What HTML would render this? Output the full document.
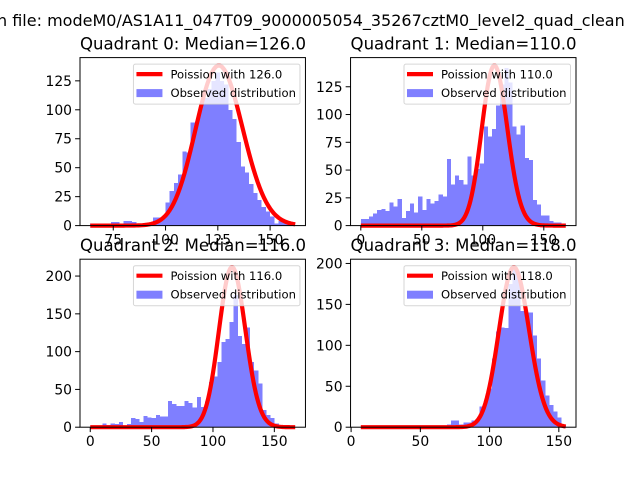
<!DOCTYPE html>
<html><head><meta charset="utf-8">
<style>
html,body{margin:0;padding:0;background:#fff;}
svg{display:block;font-family:"DejaVu Sans","Liberation Sans",sans-serif;}
</style></head>
<body>
<svg id="fig" width="640" height="480" viewBox="0 0 640 480" xmlns="http://www.w3.org/2000/svg">
<rect width="640" height="480" fill="#fff"/>
<text x="-3" y="26" font-size="16">n file: modeM0/AS1A11_047T09_9000005054_35267cztM0_level2_quad_clean</text>
</svg>
<script>
// Quadrant 0
const q0Counts=[2,2,2,2,2,3,3,2,4,4,3,2,2,2,2,7,7,6,20,30,37,44,64,63,89,90,103,110,118,125,132,125,122,100,92,72,51,46,36,28,22,16,12,8,2,4,4,2,1];
const q0BinStart=64, q0BinWidth=2;
const q0Median=126, q0Amp=3890;
const q0XTicks=[75,100,125,150], q0YTicks=[0,25,50,75,100,125];
// Quadrant 1
const q1Counts=[6,6,8,11,14,15,13,21,17,24,7,13,20,12,26,14,24,20,22,28,26,60,37,45,41,37,62,45,51,56,89,80,87,108,127,142,129,89,82,90,61,59,23,19,9,9,4,3,3,2];
const q1BinStart=0, q1BinWidth=3.36;
const q1Median=110, q1Amp=3790;
const q1XTicks=[0,50,100,150], q1YTicks=[0,25,50,75,100,125];
// Quadrant 2
const q2Counts=[1,1,1,5,3,5,4,7,2,4,12,11,7,15,13,12,16,14,14,35,31,28,28,35,32,26,40,27,34,60,67,86,113,117,139,175,121,110,132,86,75,58,23,16,12,5,2,1,1,0];
const q2BinStart=0, q2BinWidth=3.34;
const q2Median=116, q2Amp=5720;
const q2XTicks=[0,50,100,150], q2YTicks=[0,50,100,150,200];
// Quadrant 3
const q3Counts=[1,0,0,0,0,1,0,0,0,0,0,0,0,0,0,0,0,1,0,1,2,3,8,8,3,6,6,8,10,25,31,47,84,117,122,121,175,194,190,142,140,140,112,84,57,39,27,19,12,2];
const q3BinStart=7, q3BinWidth=2.96;
const q3Median=118, q3Amp=5325;
const q3XTicks=[0,50,100,150], q3YTicks=[0,50,100,150,200];

const NS="http://www.w3.org/2000/svg";
const svg=document.getElementById('fig');
function mk(tag,attrs,parent){const e=document.createElementNS(NS,tag);for(const k in attrs)e.setAttribute(k,attrs[k]);(parent||svg).appendChild(e);return e;}
function lnFact(k){let s=0;for(let i=2;i<=k;i++)s+=Math.log(i);return s;}
function pois(k,mu){return Math.exp(k*Math.log(mu)-mu-lnFact(k));}

function panel(idx,ax,counts,bs,bw,med,amp,xt,yt){
  const L=ax.x,T=ax.y,W=225.45,H=168;
  const xMin=bs,xMax=bs+bw*counts.length;
  const cMin=Math.round(xMin),cMax=Math.round(xMax);
  let cur=[];for(let k=cMin;k<=cMax;k++)cur.push(pois(k,med)*amp);
  const dMax=Math.max(Math.max(...counts),Math.max(...cur));
  const pad=(xMax-xMin)*0.05;
  const x0=xMin-pad,x1=xMax+pad,y1=dMax*1.05;
  const sx=v=>L+(v-x0)/(x1-x0)*W, sy=v=>T+H-(v/y1)*H;
  const g=mk('g',{});
  
  
  const t=mk('text',{x:L,y:T-8,'font-size':'16.7',textLength:'226',lengthAdjust:'spacingAndGlyphs'},g);
  t.textContent='Quadrant '+idx+': Median='+med.toFixed(1);
  
  
  const bg=mk('g',{'shape-rendering':'crispEdges'},g);
  counts.forEach((c,i)=>{
    if(c<=0)return;
    const r=mk('rect',{x:sx(bs+i*bw),y:sy(c),width:sx(bs+(i+1)*bw)-sx(bs+i*bw),height:sy(0)-sy(c),fill:'#0000ff','fill-opacity':'0.5'},bg);
    
    
  });
  let d='';for(let k=cMin;k<=cMax;k++){d+=(k===cMin?'M':'L')+sx(k).toFixed(2)+','+sy(cur[k-cMin]).toFixed(2);}
  const p=mk('path',{d:d,fill:'none',stroke:'#ff0000','stroke-width':'4.2','stroke-linejoin':'round'},g);
  
  
  const lg=mk('g',{},g);
  
  
  const lx=L+W-172,ly=T+6.5;
  mk('rect',{x:lx,y:ly,width:166.5,height:40,rx:2,fill:'#fff','fill-opacity':'0.8',stroke:'#ccc','stroke-opacity':'0.8','stroke-width':'1'},lg);
  mk('line',{x1:lx+3,y1:ly+10,x2:lx+29,y2:ly+10,stroke:'#ff0000','stroke-width':'4.2'},lg);
  mk('rect',{x:lx+3,y:ly+25,width:26,height:8,fill:'#0000ff','fill-opacity':'0.5'},lg);
  const t1=mk('text',{x:lx+37,y:ly+14.5,'font-size':'11.6'},lg);t1.textContent='Poission with '+med.toFixed(1);
  const t2=mk('text',{x:lx+37,y:ly+33,'font-size':'11.6'},lg);t2.textContent='Observed distribution';
  mk('rect',{x:L,y:T,width:W,height:H,fill:'none',stroke:'#000','stroke-width':'1'},g);
  xt.forEach(v=>{const X=sx(v);mk('line',{x1:X,y1:T+H,x2:X,y2:T+H+4.9,stroke:'#000','stroke-width':'1'},g);
    const tt=mk('text',{x:X,y:T+H+19,'font-size':'13.9','text-anchor':'middle'},g);tt.textContent=v;
    
    });
  yt.forEach(v=>{const Y=sy(v);mk('line',{x1:L-4.9,y1:Y,x2:L,y2:Y,stroke:'#000','stroke-width':'1'},g);
    const tt=mk('text',{x:L-8,y:Y+5,'font-size':'13.9','text-anchor':'end'},g);tt.textContent=v;
    
    });
}
panel(0,{x:80,y:57.6},q0Counts,q0BinStart,q0BinWidth,q0Median,q0Amp,q0XTicks,q0YTicks);
panel(1,{x:350.55,y:57.6},q1Counts,q1BinStart,q1BinWidth,q1Median,q1Amp,q1XTicks,q1YTicks);
panel(2,{x:80,y:259.2},q2Counts,q2BinStart,q2BinWidth,q2Median,q2Amp,q2XTicks,q2YTicks);
panel(3,{x:350.55,y:259.2},q3Counts,q3BinStart,q3BinWidth,q3Median,q3Amp,q3XTicks,q3YTicks);
</script>
</body></html>
